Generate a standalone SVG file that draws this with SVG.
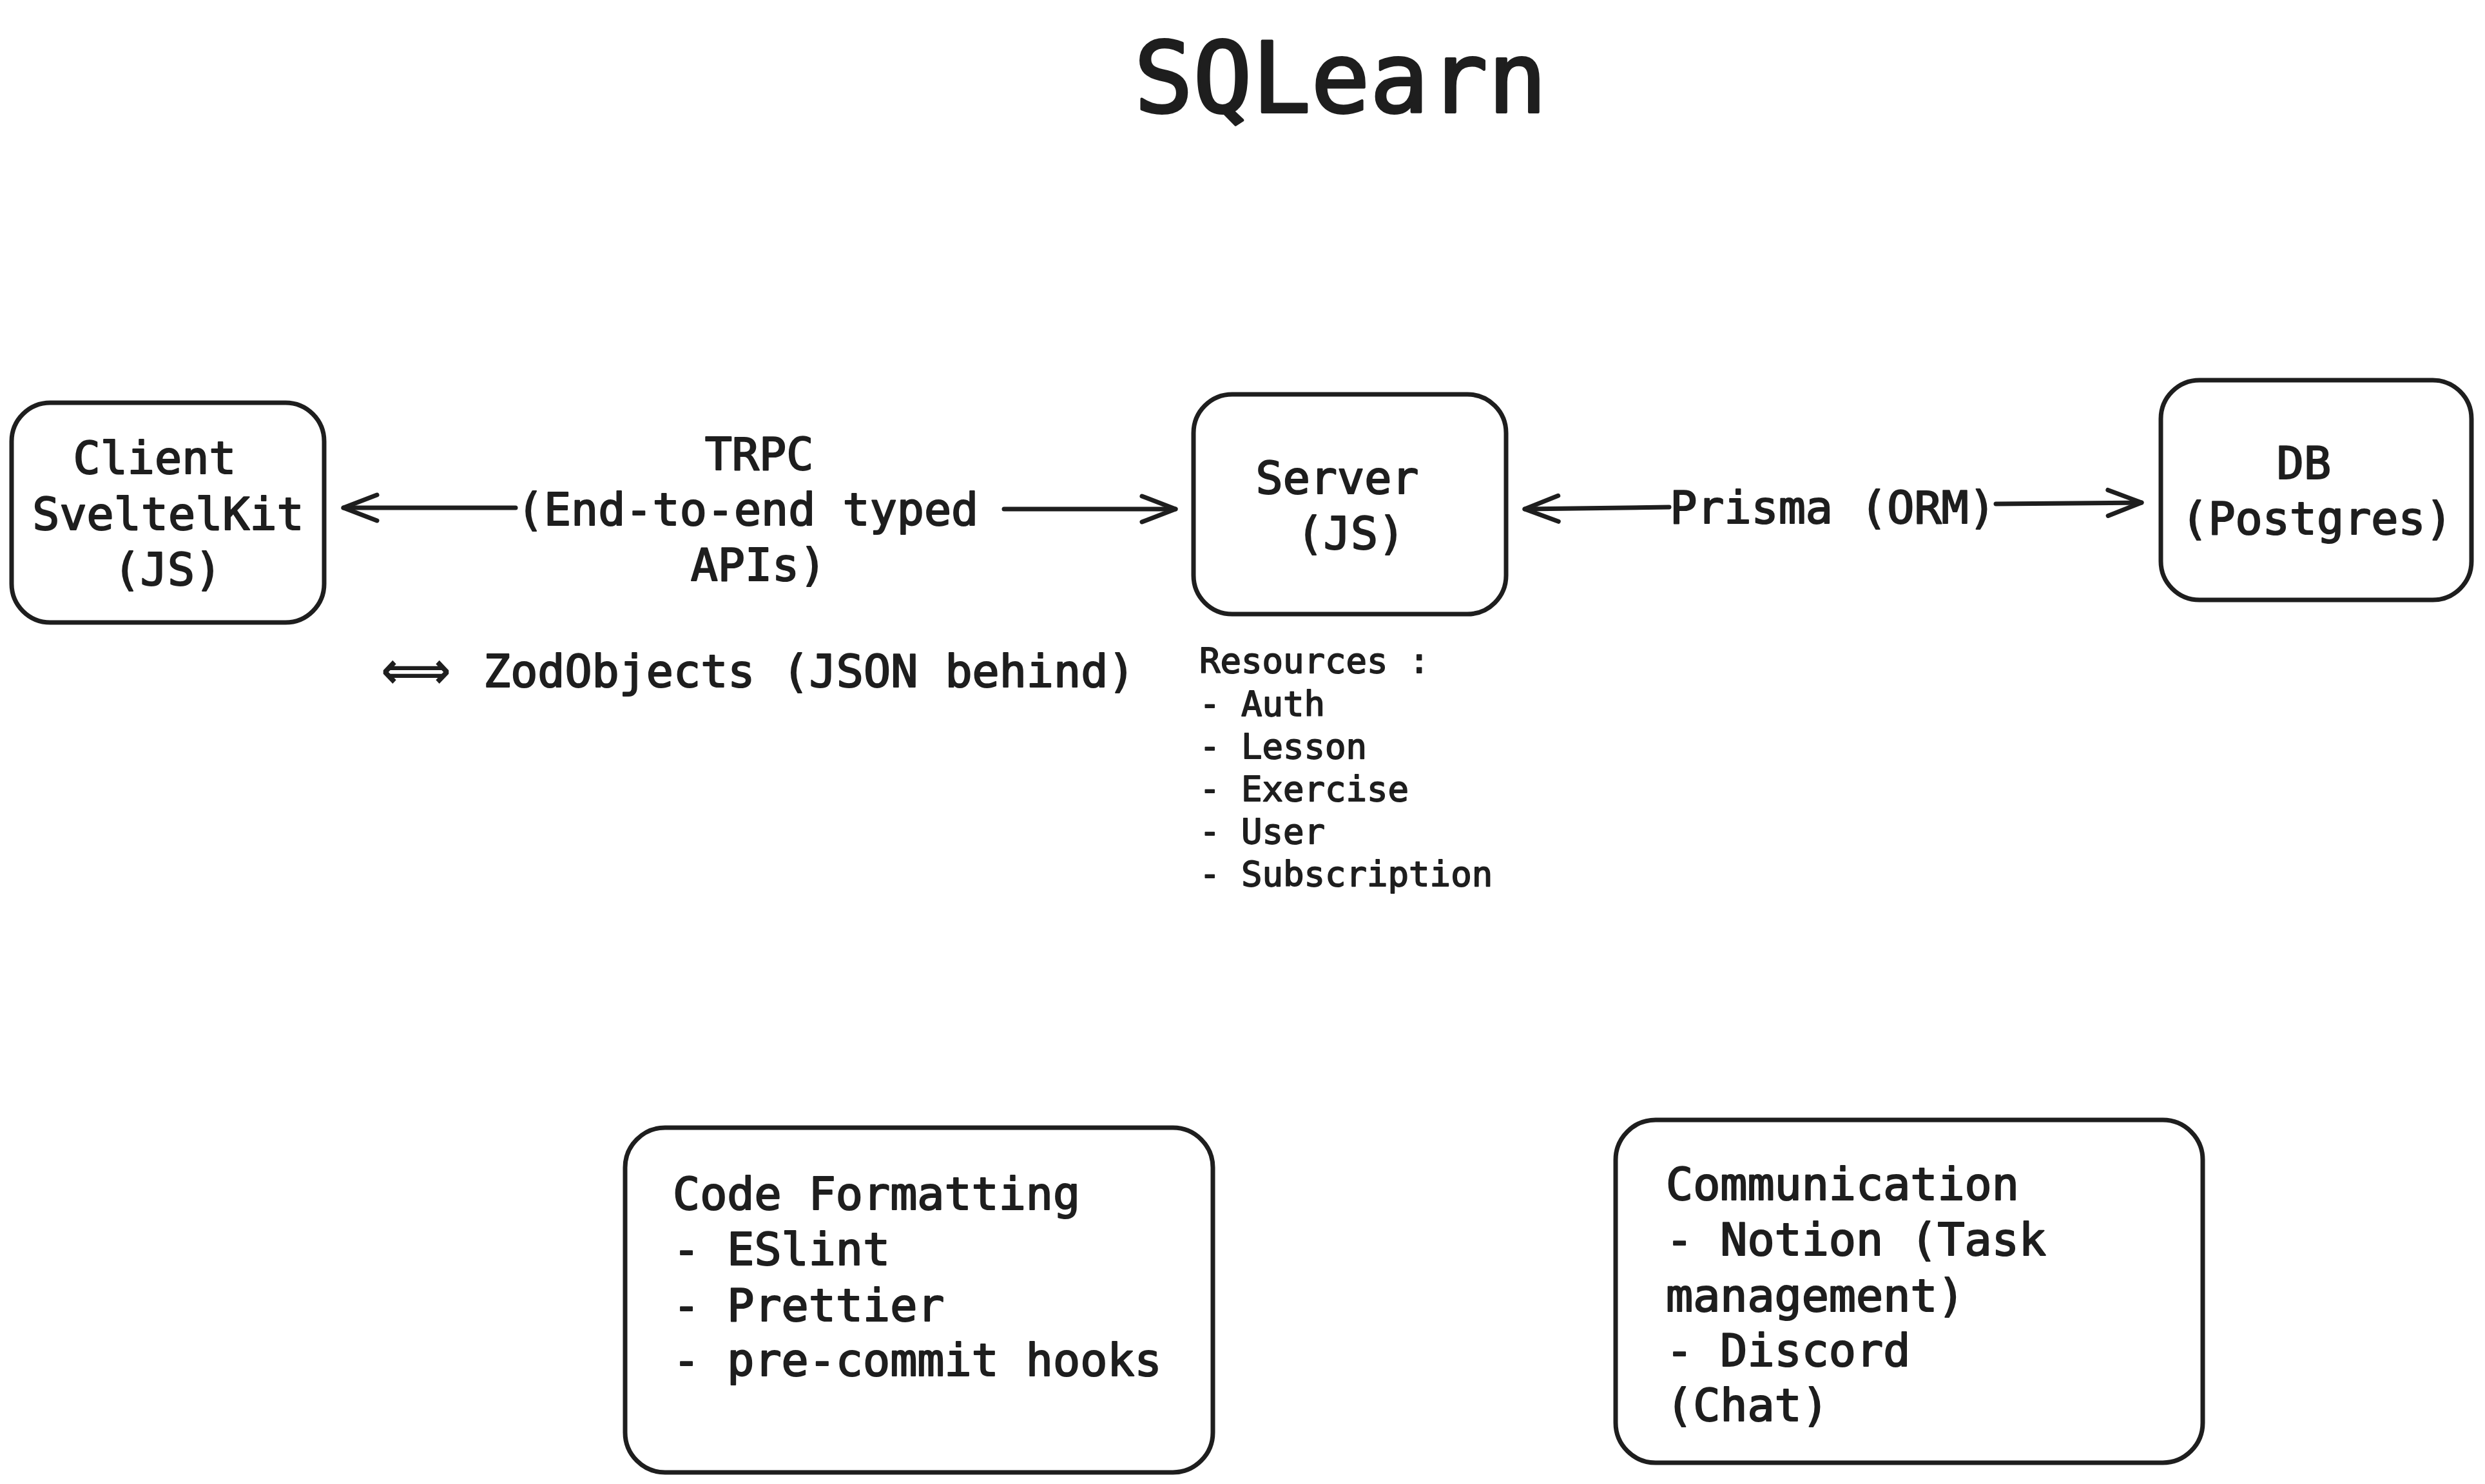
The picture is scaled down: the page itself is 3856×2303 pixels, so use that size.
<svg xmlns="http://www.w3.org/2000/svg" width="3856" height="2303" viewBox="0 0 3856 2303">
<style>
.box{fill:#ffffff;stroke:#1e1e1e;stroke-width:7}
.t{font-family:"DejaVu Sans Mono","Liberation Mono",monospace;font-size:70px;fill:#1e1e1e;stroke:#1e1e1e;stroke-width:2.2px;stroke-linejoin:round}
.m{text-anchor:middle}
.s{font-size:54px;stroke-width:1.8px}
.edge{fill:none;stroke:#1e1e1e;stroke-width:7;stroke-linecap:round}
</style>
<defs>
<marker id="head" markerUnits="userSpaceOnUse" markerWidth="80" markerHeight="60" viewBox="-60 -30 70 60" refX="0" refY="0" orient="auto-start-reverse" overflow="visible">
<path d="M-52,-20 L0,0 L-52,20" fill="none" stroke="#1e1e1e" stroke-width="7" stroke-linecap="round" stroke-linejoin="round"/>
</marker>
</defs>
<rect width="3856" height="2303" fill="#ffffff"/>
<text class="t m" x="2080" y="174" style="font-size:152px;stroke-width:4px">SQLearn</text>
<g id="client">
<rect class="box" x="18" y="625" width="485" height="341" rx="60"/>
<text class="t m" x="240" y="735">Client</text>
<text class="t m" x="261" y="822">SveltelKit</text>
<text class="t m" x="260" y="908">(JS)</text>
</g>
<g id="server">
<rect class="box" x="1852" y="612" width="485" height="341" rx="60"/>
<text class="t m" x="2075" y="766">Server</text>
<text class="t m" x="2096" y="852">(JS)</text>
</g>
<g id="db">
<rect class="box" x="3353" y="590" width="482" height="341" rx="60"/>
<text class="t m" x="3575" y="743">DB</text>
<text class="t m" x="3595" y="829">(Postgres)</text>
</g>
<g id="resources">
<text class="t s" x="1861" y="1044">Resources :</text>
<text class="t s" x="1861" y="1111">- Auth</text>
<text class="t s" x="1861" y="1177">- Lesson</text>
<text class="t s" x="1861" y="1243">- Exercise</text>
<text class="t s" x="1861" y="1309">- User</text>
<text class="t s" x="1861" y="1375">- Subscription</text>
</g>
<g id="zod">
<text x="591" y="1068" textLength="109" lengthAdjust="spacingAndGlyphs" style="font-family:'DejaVu Sans',sans-serif;font-weight:bold;font-size:80px;fill:#1e1e1e">⟺</text>
<text class="t" x="750" y="1066">ZodObjects (JSON behind)</text>
</g>
<g id="code-formatting">
<rect class="box" x="970" y="1750" width="912" height="535" rx="62"/>
<text class="t" x="1044" y="1877">Code Formatting</text>
<text class="t" x="1044" y="1963">- ESlint</text>
<text class="t" x="1044" y="2050">- Prettier</text>
<text class="t" x="1044" y="2135">- pre-commit hooks</text>
</g>
<g id="communication">
<rect class="box" x="2507" y="1738" width="911" height="532" rx="62"/>
<text class="t" x="2585" y="1862">Communication</text>
<text class="t" x="2585" y="1948">- Notion (Task</text>
<text class="t" x="2585" y="2035">management)</text>
<text class="t" x="2585" y="2120">- Discord</text>
<text class="t" x="2585" y="2205">(Chat)</text>
</g>
<g id="connectors">
<path class="edge" d="M800,788 L533,788" marker-end="url(#head)"/>
<path class="edge" d="M1558,790 L1824,790" marker-end="url(#head)"/>
<text class="t m" x="1178" y="729">TRPC</text>
<text class="t m" x="1160" y="815">(End-to-end typed</text>
<text class="t m" x="1177" y="901">APIs)</text>
<path class="edge" d="M2590,787 L2366,790" marker-end="url(#head)"/>
<path class="edge" d="M3097,782 L3323,780" marker-end="url(#head)"/>
<text class="t m" x="2844" y="812">Prisma (ORM)</text>
</g>
</svg>
